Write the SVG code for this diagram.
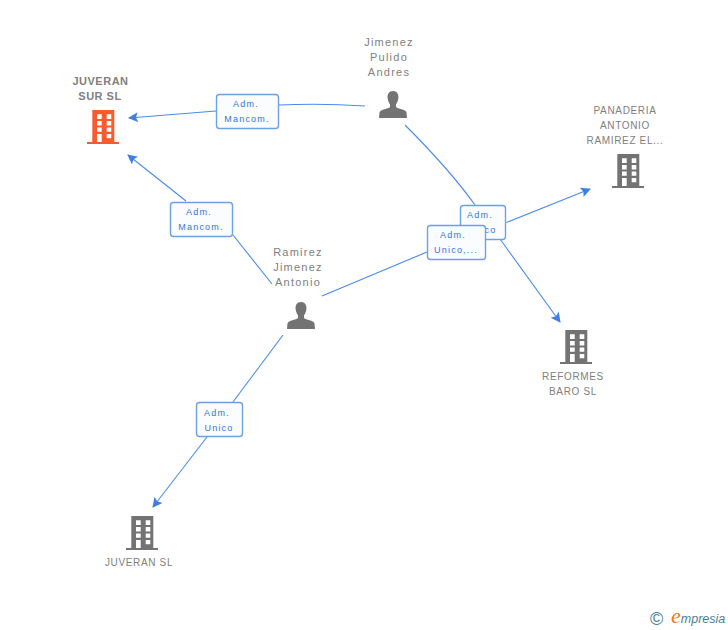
<svg xmlns="http://www.w3.org/2000/svg" width="728" height="630" viewBox="0 0 728 630">
<style>
text{font-family:"Liberation Sans",Arial,sans-serif}
.n{font-size:11px;fill:#808080;text-anchor:middle;letter-spacing:1.25px}
.c{font-size:10px;letter-spacing:.65px}
.b{font-weight:bold;font-size:11px;letter-spacing:.5px}
.l{font-size:9px;fill:#2f75e0;text-anchor:middle;letter-spacing:1.2px}
.e{fill:none;stroke:#4a8be8;stroke-width:1.1}
.box{fill:#fbfcfe;stroke:#6ea0e8;stroke-width:1.4}
</style>
<defs>
<marker id="a" markerUnits="userSpaceOnUse" markerWidth="12" markerHeight="12" refX="9" refY="5" orient="auto"><path d="M0 0L10 5L0 10L2 5Z" fill="#3f7fe0"/></marker>
<symbol id="bld" viewBox="0 0 32 34" width="32" height="34" overflow="visible">
<path fill-rule="evenodd" d="M5.300 0H27.300V32H32V34H0V32H5.300ZM10 4.300V9H14.700V4.300ZM19.700 4.300V9H24.300V4.300ZM10 11V15.500H14.700V11ZM19.700 11V15.500H24.300V11ZM10 17.500V21.700H14.700V17.500ZM19.700 17.500V21.700H24.300V17.500ZM10 24V32H14.700V24ZM19.700 24V28.300H24.300V24Z"/>
</symbol>
<symbol id="per" viewBox="0 0 28 27" width="28" height="27" overflow="visible">
<path d="M14 0C9.800 0 8.200 3.500 8.600 7C8.900 10 10 12 11 13.500V16C9 18 1.500 18 .5 21.500L0 27H28L27.500 21.500C26.500 18 19 18 17 16V13.500C18 12 19.100 10 19.400 7C19.800 3.500 18.200 0 14 0Z" fill="#737373"/>
</symbol>
</defs>
<rect width="728" height="630" fill="#fff"/>
<g id="connectors">
<path class="e" d="M365 106Q322 103 279 105"/>
<path class="e" d="M216 111L129 118" marker-end="url(#a)"/>
<path class="e" d="M186 201L128 155" marker-end="url(#a)"/>
<path class="e" d="M272 284L233 235"/>
<path class="e" d="M405 125Q450 170 475 205"/>
<path class="e" d="M500 239L560 322" marker-end="url(#a)"/>
<path class="e" d="M322 296L427 252"/>
<path class="e" d="M485 231L590 189" marker-end="url(#a)"/>
<path class="e" d="M283 335L233 402"/>
<path class="e" d="M207 437L153 507" marker-end="url(#a)"/>
</g>
<g id="node-juveran-sur">
<text class="n b" x="100.500" y="85">JUVERAN</text><text class="n b" x="100" y="100">SUR SL</text>
<use href="#bld" x="87" y="110" fill="#ff5a2c"/>
</g>
<g id="node-jimenez">
<text class="n" x="389" y="46">Jimenez</text><text class="n" x="389" y="61">Pulido</text><text class="n" x="389" y="76">Andres</text>
<use href="#per" x="379" y="91"/>
</g>
<g id="node-panaderia">
<text class="n c" x="625" y="114">PANADERIA</text><text class="n c" x="625" y="129">ANTONIO</text><text class="n c" x="625" y="144">RAMIREZ EL...</text>
<use href="#bld" x="612" y="154" fill="#737373"/>
</g>
<g id="node-ramirez">
<text class="n" x="298" y="256">Ramirez</text><text class="n" x="298" y="271">Jimenez</text><text class="n" x="298" y="286">Antonio</text>
<use href="#per" x="287" y="302"/>
</g>
<g id="node-reformes">
<use href="#bld" x="560" y="330" fill="#737373"/>
<text class="n c" x="573" y="380">REFORMES</text><text class="n c" x="573" y="395">BARO SL</text>
</g>
<g id="node-juveran">
<use href="#bld" x="126" y="516" fill="#737373"/>
<text class="n c" x="139" y="566">JUVERAN SL</text>
</g>
<g id="label-1"><rect class="box" x="216.500" y="94.500" width="62" height="34" rx="3"/><text class="l" x="246" y="107">Adm.</text><text class="l" x="247" y="122">Mancom.</text></g>
<g id="label-2"><rect class="box" x="170.500" y="202.500" width="62" height="34" rx="3"/><text class="l" x="199" y="215">Adm.</text><text class="l" x="201" y="230">Mancom.</text></g>
<g id="label-3"><rect class="box" x="460.500" y="205.500" width="45" height="34" rx="3"/><text class="l" x="480" y="218">Adm.</text><text class="l" x="482" y="233">Unico</text></g>
<g id="label-4"><rect class="box" x="427.500" y="225.500" width="58" height="34" rx="3"/><text class="l" x="453" y="238">Adm.</text><text class="l" x="456" y="253">Unico,...</text></g>
<g id="label-5"><rect class="box" x="196.500" y="402.500" width="46" height="34" rx="3"/><text class="l" x="217" y="416">Adm.</text><text class="l" x="219" y="431">Unico</text></g>
<g id="logo">
<text x="650" y="625" font-size="18" fill="#4a7f96">©</text>
<text x="671" y="623" font-size="12.500" font-style="italic" fill="#4a7f96"><tspan fill="#f07a1a" font-size="22" style="font-family:'Liberation Serif',serif">e</tspan>mpresia</text>
</g>
</svg>
